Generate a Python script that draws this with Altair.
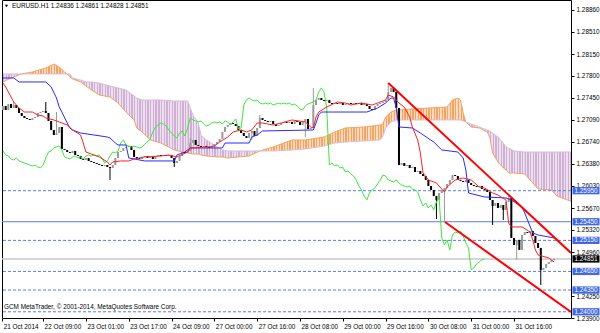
import altair as alt
import pandas as pd

# ---------------- data ----------------
symbol = "EURUSD.H1"
last_ohlc = [1.24836, 1.24861, 1.24828, 1.24851]

open0 = 1.27250
closes = [
    1.27314, 1.27250, 1.27346, 1.27282, 1.27330, 1.27282, 1.27201, 1.27153, 1.27121, 1.27105,
    1.27089, 1.27121, 1.27137, 1.27201, 1.27217, 1.27234, 1.27201, 1.27073, 1.26928, 1.26847,
    1.26879, 1.26976, 1.26622, 1.26606, 1.26573, 1.26557, 1.26590, 1.26525, 1.26509, 1.26461,
    1.26445, 1.26477, 1.26429, 1.26412, 1.26396, 1.26380, 1.26364, 1.26348, 1.26364, 1.26332,
    1.26316, 1.26364, 1.26477, 1.26573, 1.26590, 1.26638, 1.26654, 1.26670, 1.26606, 1.26493,
    1.26477, 1.26461, 1.26493, 1.26509, 1.26477, 1.26493, 1.26461, 1.26509, 1.26525, 1.26509,
    1.26525, 1.26509, 1.26525, 1.26477, 1.26396, 1.26429, 1.26509, 1.26573, 1.26557, 1.26590,
    1.26718, 1.26767, 1.26686, 1.26670, 1.26654, 1.26670, 1.26654, 1.26638, 1.26654, 1.26702,
    1.26734, 1.26783, 1.26896, 1.26976, 1.27008, 1.27040, 1.27024, 1.26992, 1.26928, 1.26879,
    1.26831, 1.26799, 1.26879, 1.26912, 1.26831, 1.26960, 1.27121, 1.27089, 1.27073, 1.27057,
    1.27073, 1.27024, 1.26992, 1.27008, 1.27040, 1.27057, 1.27040, 1.27057, 1.27024, 1.27073,
    1.27057, 1.27008, 1.27057, 1.27105, 1.26944, 1.26960, 1.27330, 1.27411, 1.27443, 1.27411,
    1.27395, 1.27411, 1.27362, 1.27346, 1.27362, 1.27346, 1.27362, 1.27330, 1.27346, 1.27362,
    1.27346, 1.27362, 1.27346, 1.27362, 1.27330, 1.27346, 1.27314, 1.27266, 1.27250, 1.27314,
    1.27346, 1.27362, 1.27379, 1.27411, 1.27540, 1.27604, 1.27540, 1.27282, 1.26364, 1.26396,
    1.26348, 1.26364, 1.26316, 1.26332, 1.26251, 1.26268, 1.26219, 1.26187, 1.26123, 1.26026,
    1.25962, 1.25865, 1.25801, 1.25913, 1.25962, 1.25994, 1.26058, 1.26123, 1.26203, 1.26187,
    1.26123, 1.26107, 1.26090, 1.26123, 1.26074, 1.26042, 1.26026, 1.26010, 1.26026, 1.25978,
    1.25962, 1.25929, 1.25801, 1.25704, 1.25752, 1.25672, 1.25720, 1.25640, 1.25768, 1.25833,
    1.25189, 1.25076, 1.25157, 1.24996, 1.25237, 1.25285, 1.25269, 1.25302, 1.25221, 1.25108,
    1.25028, 1.24674, 1.24706, 1.24770, 1.24802, 1.24836, 1.24851,
]
spike_high = {4: 1.27379, 16: 1.27379, 20: 1.27217, 70: 1.26799, 96: 1.27169,
              116: 1.27604, 144: 1.27684, 189: 1.25865}
spike_low = {40: 1.26123, 64: 1.26332, 93: 1.26767, 113: 1.26815, 162: 1.25495,
             165: 1.25446, 183: 1.25398, 187: 1.25479, 192: 1.24835, 201: 1.24432}

tenkan_idx = [0, 1, 3, 4, 6, 8, 11, 13, 15, 16, 19, 21, 24, 26, 29, 30, 31, 34, 36, 39,
              40, 41, 44, 47, 49, 53, 59, 62, 65, 69, 70, 77, 79, 81, 84, 86, 89, 91, 93, 95,
              97, 101, 104, 108, 113, 115, 116, 117, 118, 121, 125, 128, 130, 134, 138, 140, 143, 144, 146, 148,
              150, 152, 153, 155, 156, 157, 159, 162, 165, 166, 169, 172, 175, 178, 180, 183, 185, 188, 189, 190,
              194, 197, 198, 199, 200, 204, 206]
tenkan_val = [1.27684, 1.27620, 1.27459, 1.27379, 1.27282, 1.27217, 1.27217, 1.27169, 1.27153, 1.27121,
              1.27089, 1.27057, 1.27008, 1.26928, 1.26847, 1.26718, 1.26573, 1.26525, 1.26493, 1.26412,
              1.26364, 1.26412, 1.26429, 1.26429, 1.26461, 1.26493, 1.26509, 1.26525, 1.26493, 1.26573,
              1.26638, 1.26654, 1.26670, 1.26734, 1.26815, 1.26896, 1.26928, 1.26896, 1.26928, 1.27040,
              1.27040, 1.27008, 1.27040, 1.27089, 1.27057, 1.26976, 1.26960, 1.27137, 1.27217, 1.27298,
              1.27379, 1.27362, 1.27330, 1.27362, 1.27330, 1.27362, 1.27411, 1.27491, 1.27459, 1.27362,
              1.27298, 1.27137, 1.26976, 1.26767, 1.26557, 1.26235, 1.26123, 1.26074, 1.25929, 1.26010,
              1.26123, 1.26155, 1.26123, 1.26010, 1.25994, 1.25913, 1.25881, 1.25801, 1.25430, 1.25366,
              1.25366, 1.25285, 1.25157, 1.24996, 1.24915, 1.24867, 1.24802]

kijun_idx = [0, 4, 6, 16, 18, 20, 21, 22, 24, 25, 26, 29, 34, 39, 40, 42, 43, 46, 47, 53,
             64, 65, 68, 70, 82, 83, 92, 93, 95, 97, 116, 117, 118, 119, 136, 140, 143, 145, 146, 147,
             148, 153, 156, 161, 164, 170, 172, 173, 174, 180, 188, 190, 194, 195, 198, 200, 206]
kijun_val = [1.27765, 1.27765, 1.27701, 1.27701, 1.27620, 1.27443, 1.27298, 1.27217, 1.27040, 1.26960,
             1.26928, 1.26879, 1.26847, 1.26815, 1.26799, 1.26718, 1.26686, 1.26686, 1.26477, 1.26429,
             1.26429, 1.26525, 1.26573, 1.26638, 1.26638, 1.26718, 1.26718, 1.26815, 1.26847, 1.26912,
             1.26928, 1.27040, 1.27169, 1.27217, 1.27217, 1.27282, 1.27362, 1.27443, 1.27443, 1.27282,
             1.26976, 1.26960, 1.26879, 1.26734, 1.26606, 1.26573, 1.26477, 1.26284, 1.25913, 1.25849,
             1.25833, 1.25801, 1.25688, 1.25591, 1.25269, 1.25237, 1.25189]

chikou_shift = 26

cloud_idx = [0, 3, 6, 7, 11, 16, 19, 21, 23, 24, 25, 26, 29, 31, 33, 36, 40, 43, 46, 47,
             49, 50, 52, 55, 59, 64, 69, 71, 73, 74, 76, 80, 82, 84, 92, 96, 101, 108, 113, 120,
             124, 128, 135, 141, 142, 143, 145, 147, 153, 166, 168, 170, 171, 172, 173, 175, 178, 181, 182, 183,
             185, 187, 188, 189, 191, 195, 198, 200, 205, 207, 213]
span_a = [1.27701, 1.27765, 1.27813, 1.27830, 1.27862, 1.27926, 1.27990, 1.27942, 1.27862, 1.27830,
          1.27781, 1.27749, 1.27701, 1.27636, 1.27572, 1.27491, 1.27459, 1.27362, 1.27217, 1.27169,
          1.27089, 1.26960, 1.26896, 1.26767, 1.26718, 1.26606, 1.26557, 1.26541, 1.26541, 1.26525,
          1.26509, 1.26493, 1.26493, 1.26477, 1.26509, 1.26590, 1.26654, 1.26767, 1.26767, 1.26815,
          1.26896, 1.26960, 1.26976, 1.27008, 1.27024, 1.27137, 1.27217, 1.27250, 1.27266, 1.27298,
          1.27411, 1.27443, 1.27411, 1.27201, 1.27057, 1.26976, 1.26960, 1.26896, 1.26799, 1.26557,
          1.26412, 1.26316, 1.26284, 1.26235, 1.26235, 1.26219, 1.26074, 1.25978, 1.25962, 1.25865,
          1.25768]
span_b = [1.27830, 1.27830, 1.27830, 1.27830, 1.27830, 1.27830, 1.27830, 1.27830, 1.27830, 1.27830,
          1.27830, 1.27765, 1.27733, 1.27701, 1.27701, 1.27684, 1.27636, 1.27604, 1.27572, 1.27540,
          1.27475, 1.27443, 1.27411, 1.27411, 1.27411, 1.27395, 1.27395, 1.27169, 1.27040, 1.26847,
          1.26767, 1.26654, 1.26606, 1.26590, 1.26590, 1.26590, 1.26590, 1.26606, 1.26622, 1.26670,
          1.26718, 1.26734, 1.26751, 1.26767, 1.26831, 1.26960, 1.27057, 1.27089, 1.27089, 1.27089,
          1.27089, 1.27089, 1.27089, 1.27073, 1.27057, 1.27024, 1.26976, 1.26928, 1.26912, 1.26879,
          1.26815, 1.26718, 1.26654, 1.26638, 1.26590, 1.26573, 1.26573, 1.26573, 1.26573, 1.26573,
          1.26573]

trend_upper = [(144, 1.27684), (212.3, 1.24947)]
trend_lower = [(165.2, 1.25446), (212.3, 1.23997)]

dashed_levels = [1.25950, 1.25150, 1.24650, 1.24350, 1.24000]
solid_levels = [1.25450]
bid_price = 1.24851

ytick_vals = [1.28860, 1.28510, 1.28150, 1.27800, 1.27450, 1.27090, 1.26740, 1.26380,
              1.26030, 1.25670, 1.25320, 1.24960, 1.24250, 1.23900]
xtick_idx = [-0.3, 15, 31, 47, 63, 79, 95, 111, 127, 143, 159, 175, 191]
xtick_lab = ["21 Oct 2014", "22 Oct 09:00", "23 Oct 01:00", "23 Oct 17:00", "24 Oct 09:00",
             "27 Oct 00:00", "27 Oct 16:00", "28 Oct 08:00", "29 Oct 00:00", "29 Oct 16:00",
             "30 Oct 08:00", "31 Oct 00:00", "31 Oct 16:00"]
copyright_text = "GCM MetaTrader, \u00a9 2001-2014, MetaQuotes Software Corp."

# ---------------- styles ----------------
W, H = 569, 318
XMIN, XMAX = -0.37, 212.3
YMIN, YMAX = 1.23900, 1.29021
FONT = "Liberation Sans"
FS = 6.4
C_UP = "#9a9a9a"
C_DN = "#000000"
C_A = "#F4A460"
C_B = "#D8BFD8"
C_HB = "#CFB0D4"
C_LVL = "#5a7ee0"
TRANSP = "rgba(255,255,255,0)"

xs = alt.Scale(domain=[XMIN, XMAX], nice=False, zero=False)
ys = alt.Scale(domain=[YMIN, YMAX], nice=False, zero=False)

label_expr = ("[" + ",".join("'%s'" % s for s in xtick_lab) + "][indexof(["
              + ",".join(str(v) for v in xtick_idx) + "], datum.value)]")
xaxis = alt.Axis(values=xtick_idx, labelExpr=label_expr, title=None, grid=False, domain=False,
                 tickSize=3, tickColor="black", labelFont=FONT, labelFontSize=FS, labelColor="black",
                 labelAlign="left", labelPadding=2, labelFlush=False, labelOverlap=False, labelOffset=1)
yaxis = alt.Axis(orient="right", values=ytick_vals, format=".5f", title=None, grid=False, domain=False,
                 tickSize=3, tickColor="black", labelFont=FONT, labelFontSize=FS, labelColor="black",
                 labelPadding=2, labelOverlap=False, labelBaseline="middle")


def X(f):
    return alt.X(f, scale=xs, axis=xaxis)


def Y(f):
    return alt.Y(f, scale=ys, axis=yaxis)


# ---------------- tables ----------------
n = len(closes)
opens = [open0] + closes[:-1]
rows = []
for i in range(n):
    o, c = opens[i], closes[i]
    hi = max(o, c, spike_high.get(i, 0.0))
    lo = min(o, c, spike_low.get(i, 9.0))
    if i == n - 1:
        hi, lo = last_ohlc[1], last_ohlc[2]
    rows.append({"idx": i, "open": o, "close": c, "high": hi, "low": lo,
                 "dir": "up" if c >= o else "down"})
cdf = pd.DataFrame(rows)

tdf = pd.DataFrame({"idx": tenkan_idx, "v": tenkan_val})
kdf = pd.DataFrame({"idx": kijun_idx, "v": kijun_val})
chdf = pd.DataFrame({"idx": [i - chikou_shift for i in range(chikou_shift, n)],
                     "v": closes[chikou_shift:]})
cloud = pd.DataFrame({"idx": cloud_idx, "a": span_a, "b": span_b})

# split the cloud into pieces at the crossings (a == b), then into short chunks
segs, cur = [], []
for k in range(len(cloud_idx)):
    cur.append(k)
    if span_a[k] == span_b[k] and len(cur) > 1:
        segs.append(cur)
        cur = [k]
if len(cur) > 1:
    segs.append(cur)

chunks = []
for s in segs:
    col = C_A if sum(span_a[k] - span_b[k] for k in s) > 0 else C_HB
    part = [s[0]]
    for k in s[1:]:
        part.append(k)
        if cloud_idx[k] - cloud_idx[part[0]] >= 20 and k != s[-1]:
            chunks.append((part, col))
            part = [k]
    if len(part) > 1:
        chunks.append((part, col))


def hatch(color, nbars):
    stops = []
    for k in range(nbars):
        a = k / nbars
        b = (k + 0.5) / nbars
        c = (k + 1) / nbars
        stops += [alt.GradientStop(offset=a, color=color),
                  alt.GradientStop(offset=b, color=color),
                  alt.GradientStop(offset=b, color=TRANSP),
                  alt.GradientStop(offset=c, color=TRANSP)]
    return alt.Gradient(gradient="linear", stops=stops, x1=0, x2=1, y1=0, y2=0)


layers = []
for part, col in chunks:
    sub = cloud.iloc[part].reset_index(drop=True)
    nb = max(1, int(round(cloud_idx[part[-1]] - cloud_idx[part[0]])))
    layers.append(
        alt.Chart(sub).mark_area(fill=col, opacity=0.4, strokeWidth=0, clip=True)
        .encode(x=X("idx:Q"), y=Y("a:Q"), y2="b:Q")
    )
    layers.append(
        alt.Chart(sub).mark_area(fill=hatch(col, nb), strokeWidth=0, clip=True)
        .encode(x=X("idx:Q"), y=Y("a:Q"), y2="b:Q")
    )

layers.append(alt.Chart(cloud).mark_line(color=C_A, strokeWidth=1, clip=True)
              .encode(x=X("idx:Q"), y=Y("a:Q")))
layers.append(alt.Chart(cloud).mark_line(color=C_B, strokeWidth=1, clip=True)
              .encode(x=X("idx:Q"), y=Y("b:Q")))

# price levels
layers.append(alt.Chart(pd.DataFrame({"p": [bid_price]})).mark_rule(color="#c8c8c8", strokeWidth=1.5)
              .encode(y=Y("p:Q")))
layers.append(alt.Chart(pd.DataFrame({"p": dashed_levels})).mark_rule(color=C_LVL, strokeWidth=1, strokeDash=[3, 2])
              .encode(y=Y("p:Q")))
layers.append(alt.Chart(pd.DataFrame({"p": solid_levels})).mark_rule(color=C_LVL, strokeWidth=1)
              .encode(y=Y("p:Q")))

ccol = alt.Color("dir:N", scale=alt.Scale(domain=["up", "down"], range=[C_UP, C_DN]), legend=None)
layers.append(alt.Chart(cdf).mark_rule(strokeWidth=1, clip=True)
              .encode(x=X("idx:Q"), y=Y("low:Q"), y2="high:Q", color=ccol))
layers.append(alt.Chart(cdf).mark_rule(strokeWidth=2, clip=True)
              .encode(x=X("idx:Q"), y=Y("open:Q"), y2="close:Q", color=ccol))

# indicator lines
for df_, col in [(chdf, "#3ee63e"), (kdf, "#2a2aff"), (tdf, "#ff2020")]:
    layers.append(alt.Chart(df_).mark_line(color=col, strokeWidth=1, clip=True)
                  .encode(x=X("idx:Q"), y=Y("v:Q")))

# trend lines
tr = pd.DataFrame([{"line": "u", "idx": a, "p": b} for a, b in trend_upper] +
                  [{"line": "l", "idx": a, "p": b} for a, b in trend_lower])
layers.append(alt.Chart(tr).mark_line(color="#ff0000", strokeWidth=2, clip=True)
              .encode(x=X("idx:Q"), y=Y("p:Q"), detail="line:N"))

# price boxes on the right
box_rows = [{"p": v, "t": "%.5f" % v, "bg": "#4169E1"} for v in dashed_levels + solid_levels]
box_rows.append({"p": bid_price, "t": "%.5f" % bid_price, "bg": "#000000"})
bdf = pd.DataFrame(box_rows)
BOX = "M-1,-0.27L1,-0.27L1,0.27L-1,0.27Z"
layers.append(alt.Chart(bdf).mark_point(shape=BOX, filled=True, size=729, opacity=1, strokeWidth=0, clip=False)
              .encode(x=alt.value(584), y=Y("p:Q"), color=alt.Color("bg:N", scale=None)))
layers.append(alt.Chart(bdf).mark_text(font=FONT, fontSize=FS, color="white", align="center",
                                       baseline="middle", clip=False)
              .encode(x=alt.value(584), y=Y("p:Q"), text="t:N"))

# header and footer texts
head = pd.DataFrame({"t": [symbol + " " + " ".join("%.5f" % v for v in last_ohlc)]})
layers.append(alt.Chart(head).mark_text(font=FONT, fontSize=FS, color="black", align="left", baseline="middle")
              .encode(x=alt.value(10), y=alt.value(6), text="t:N"))
layers.append(alt.Chart(head).mark_point(shape="triangle-down", filled=True, color="black", size=10, opacity=1)
              .encode(x=alt.value(4.5), y=alt.value(6)))
foot = pd.DataFrame({"t": [copyright_text]})
layers.append(alt.Chart(foot).mark_text(font=FONT, fontSize=FS, color="black", align="left", baseline="middle")
              .encode(x=alt.value(2), y=alt.value(307), text="t:N"))

chart = (alt.layer(*layers)
         .properties(width=W, height=H, background="white",
                     padding={"left": 2, "top": 0, "right": 29, "bottom": 15},
                     autosize=alt.AutoSizeParams(type="none"))
         .configure_view(stroke="black", strokeWidth=1))

chart.save("out.html", embed_options={"renderer": "svg", "actions": False})
